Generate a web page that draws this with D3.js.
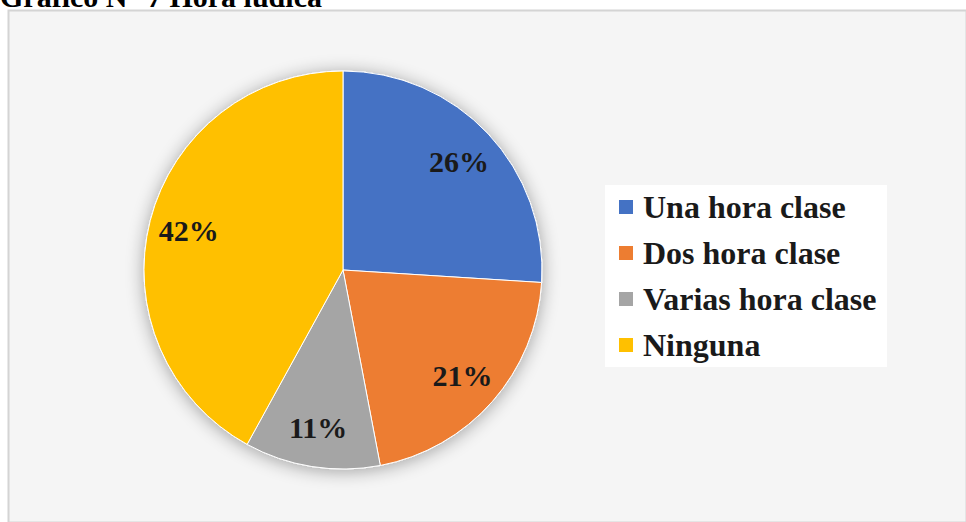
<!DOCTYPE html>
<html>
<head>
<meta charset="utf-8">
<script src="https://cdn.jsdelivr.net/npm/d3@7"></script>
<style>
  html, body { margin: 0; padding: 0; background: #ffffff; }
  svg { display: block; }
  .serif { font-family: "Liberation Serif", "DejaVu Serif", "Times New Roman", serif; font-weight: bold; }
</style>
</head>
<body>
<svg id="chart" width="966" height="522"></svg>
<script>
// Distribución de la hora lúdica
const categories = ["Una hora clase", "Dos hora clase", "Varias hora clase", "Ninguna"];
const values = [26, 21, 11, 42];
const colors = ["#4472C4", "#ED7D31", "#A5A5A5", "#FFC000"];
const title = "Gráfico N° 7 Hora lúdica";

const svg = d3.select("#chart");
const W = 966, H = 522;

const defs = svg.append("defs");
const shadow = defs.append("filter").attr("id", "pieShadow")
  .attr("x", "-30%").attr("y", "-30%").attr("width", "160%").attr("height", "160%");
shadow.append("feGaussianBlur").attr("in", "SourceAlpha").attr("stdDeviation", 9).attr("result", "b");
shadow.append("feOffset").attr("in", "b").attr("dx", 0).attr("dy", 2).attr("result", "o");
shadow.append("feComponentTransfer").attr("in", "o").attr("result", "s")
  .append("feFuncA").attr("type", "linear").attr("slope", 0.35);
const merge = shadow.append("feMerge");
merge.append("feMergeNode").attr("in", "s");
merge.append("feMergeNode").attr("in", "SourceGraphic");

// Chart frame
svg.append("rect")
  .attr("x", 8.5).attr("y", 10.5)
  .attr("width", W - 8).attr("height", H - 10)
  .attr("fill", "#f5f5f5")
  .attr("stroke", "#d4d4d4")
  .attr("stroke-width", 2);

// Title (sits right above the frame)
svg.append("text")
  .attr("class", "serif")
  .attr("x", 0).attr("y", 7)
  .attr("font-size", 30)
  .attr("fill", "#000")
  .text(title);

const cx = 343, cy = 270, R = 199;

const pie = d3.pie().sort(null).value(d => d)(values);
const arc = d3.arc().innerRadius(0).outerRadius(R);
const labelArc = d3.arc().innerRadius(R * 0.8).outerRadius(R * 0.8);

const g = svg.append("g").attr("transform", `translate(${cx},${cy})`);

g.append("g").attr("filter", "url(#pieShadow)")
  .selectAll("path")
  .data(pie)
  .join("path")
  .attr("d", arc)
  .attr("fill", (d, i) => colors[i])
  .attr("stroke", "#ffffff")
  .attr("stroke-width", 1);

g.selectAll("text.lbl")
  .data(pie)
  .join("text")
  .attr("class", "lbl serif")
  .attr("transform", d => `translate(${labelArc.centroid(d)})`)
  .attr("text-anchor", "middle")
  .attr("dominant-baseline", "central")
  .attr("font-size", 30)
  .attr("fill", "#1a1a1a")
  .text(d => d.data + "%");

// Legend
const lx = 605, ly = 185;
svg.append("rect")
  .attr("x", lx).attr("y", ly)
  .attr("width", 282).attr("height", 182)
  .attr("fill", "#ffffff");

const legend = svg.append("g").attr("transform", `translate(${lx + 14},${ly + 22})`);
const item = legend.selectAll("g")
  .data(categories)
  .join("g")
  .attr("transform", (d, i) => `translate(0,${i * 46})`);
item.append("rect")
  .attr("x", 0).attr("y", -7)
  .attr("width", 14).attr("height", 14)
  .attr("fill", (d, i) => colors[i]);
item.append("text")
  .attr("class", "serif")
  .attr("x", 24).attr("y", 0)
  .attr("dominant-baseline", "central")
  .attr("font-size", 32)
  .attr("fill", "#1a1a1a")
  .text(d => d);
</script>
</body>
</html>
